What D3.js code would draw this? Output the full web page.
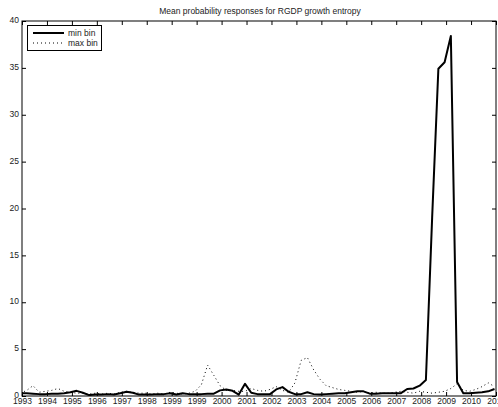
<!DOCTYPE html>
<html>
<head>
<meta charset="utf-8">
<script src="https://cdn.jsdelivr.net/npm/d3@7"></script>
<style>
  body { margin: 0; background: #fff; }
  svg { display: block; font-family: "Liberation Sans", Arial, sans-serif; }
</style>
</head>
<body>
<svg width="498" height="407"></svg>
<script>
// tick labels along the bottom (matlab datetick output, 1999 shows twice)
var xTickLabels = ["1993","1994","1995","1996","1997","1998","1999","1999","2000","2001",
                   "2002","2003","2004","2005","2006","2007","2008","2009","2010","2011"];
var yTicks = [0, 5, 10, 15, 20, 25, 30, 35, 40];

// quarterly series
var minBin = [0.3,0.3,0.25,0.2,0.2,0.25,0.25,0.3,0.4,0.55,
              0.35,0.1,0.15,0.15,0.2,0.15,0.3,0.45,0.35,0.15,
              0.15,0.15,0.2,0.2,0.3,0.15,0.3,0.2,0.2,0.2,
              0.25,0.25,0.6,0.7,0.55,0.15,1.3,0.35,0.2,0.2,
              0.2,0.7,0.95,0.45,0.2,0.2,0.4,0.2,0.15,0.2,
              0.25,0.3,0.3,0.4,0.5,0.5,0.25,0.25,0.3,0.3,
              0.3,0.3,0.75,0.8,1.1,1.7,19,34.9,35.6,38.4,
              1.5,0.3,0.3,0.35,0.4,0.5,0.75];
var maxBin = [0.3,0.6,1.1,0.4,0.5,0.6,0.8,0.5,0.4,0.3,
              0.3,0.2,0.3,0.2,0.3,0.2,0.4,0.5,0.4,0.3,
              0.3,0.2,0.3,0.2,0.4,0.3,0.2,0.3,0.5,1.2,
              3.3,2.2,1.1,0.6,0.6,0.5,0.5,0.8,0.6,0.5,
              0.7,1.0,0.6,0.4,1.4,3.8,4.1,2.8,1.8,1.1,
              0.9,0.7,0.6,0.5,0.4,0.5,0.3,0.4,0.3,0.3,
              0.4,0.5,0.4,0.3,0.5,0.4,0.3,0.4,0.5,0.8,
              1.3,0.6,0.5,0.7,1.0,1.4,1.0];

var svg = d3.select("svg");
var pLeft = 22, pRight = 496, pTop = 21, pBottom = 396;
var fs = 8.5;

// x in tick units: one tick per label, data is quarterly
var x = d3.scaleLinear().domain([0, xTickLabels.length - 1]).range([pLeft, pRight]);
var y = d3.scaleLinear().domain([0, 40]).range([pBottom, pTop]);
var t = function(i) { return -0.06 + 0.25 * i; };

svg.append("clipPath").attr("id", "clip")
  .append("rect").attr("x", pLeft).attr("y", pTop)
  .attr("width", pRight - pLeft).attr("height", pBottom - pTop);

var line = d3.line()
  .x(function(d, i) { return x(t(i)); })
  .y(function(d) { return y(d); });

var plot = svg.append("g").attr("clip-path", "url(#clip)");
plot.append("path").datum(maxBin)
  .attr("d", line).attr("fill", "none")
  .attr("stroke", "#000").attr("stroke-width", 1)
  .attr("stroke-dasharray", "1,3");
plot.append("path").datum(minBin)
  .attr("d", line).attr("fill", "none")
  .attr("stroke", "#000").attr("stroke-width", 2)
  .attr("stroke-linejoin", "round");

// axes, ticks inside on all four sides
var tickIdx = d3.range(xTickLabels.length);
svg.append("g").attr("transform", "translate(0," + pBottom + ")")
  .call(d3.axisBottom(x).tickValues(tickIdx).tickSize(-4).tickPadding(2)
    .tickFormat(function(d) { return xTickLabels[d]; }))
  .call(function(g) { g.select(".domain").remove(); });
svg.append("g").attr("transform", "translate(0," + pTop + ")")
  .call(d3.axisTop(x).tickValues(tickIdx).tickSize(-4).tickFormat(""))
  .call(function(g) { g.select(".domain").remove(); });
svg.append("g").attr("class", "yax").attr("transform", "translate(" + pLeft + ",0)")
  .call(d3.axisLeft(y).tickValues(yTicks).tickSize(-4).tickPadding(3))
  .call(function(g) { g.select(".domain").remove(); });
svg.append("g").attr("transform", "translate(" + pRight + ",0)")
  .call(d3.axisRight(y).tickValues(yTicks).tickSize(-4).tickFormat(""))
  .call(function(g) { g.select(".domain").remove(); });

svg.selectAll(".tick text").attr("font-size", fs).attr("fill", "#222")
  .attr("font-family", "Liberation Sans, Arial, sans-serif");
svg.selectAll(".yax .tick text").attr("dy", "0.2em");
svg.selectAll(".tick line").attr("stroke", "#000");

svg.append("rect").attr("x", pLeft).attr("y", pTop)
  .attr("width", pRight - pLeft).attr("height", pBottom - pTop)
  .attr("fill", "none").attr("stroke", "#000").attr("stroke-width", 1);

svg.append("text").attr("x", (pLeft + pRight) / 2 + 1).attr("y", 14)
  .attr("text-anchor", "middle").attr("font-size", fs).attr("fill", "#222")
  .text("Mean probability responses for RGDP growth entropy");

// legend
var lg = svg.append("g");
lg.append("rect").attr("x", 27.5).attr("y", 25.5).attr("width", 74).attr("height", 25)
  .attr("fill", "#fff").attr("stroke", "#000").attr("stroke-width", 1);
var items = [{name: "min bin", w: 2, dash: null}, {name: "max bin", w: 1, dash: "1,3"}];
items.forEach(function(d, i) {
  var yy = 33 + i * 10;
  lg.append("line").attr("x1", 33).attr("x2", 64).attr("y1", yy).attr("y2", yy)
    .attr("stroke", "#000").attr("stroke-width", d.w).attr("stroke-dasharray", d.dash);
  lg.append("text").attr("x", 68).attr("y", yy + 3).attr("font-size", fs).attr("fill", "#222")
    .text(d.name);
});
</script>
</body>
</html>
